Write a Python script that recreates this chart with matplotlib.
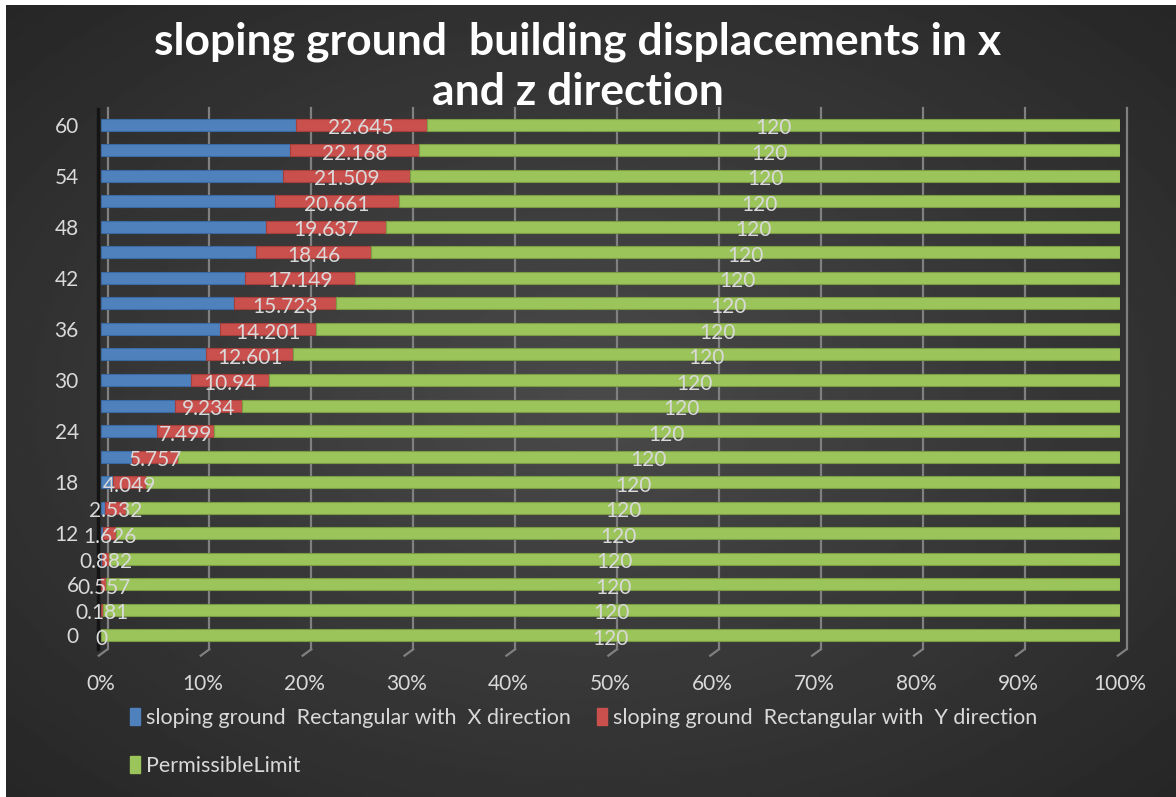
import numpy as np
import matplotlib.pyplot as plt
from matplotlib.patches import Patch
from matplotlib.transforms import ScaledTranslation

plt.rcParams['font.family'] = ['Lato', 'DejaVu Sans']

# data
storeys = [0, 3, 6, 9, 12, 15, 18, 21, 24, 27, 30, 33, 36, 39, 42, 45, 48, 51, 54, 57, 60]
x_dir = [0, 0.01, 0.05, 0.1, 0.2, 0.5, 1.5, 4.0, 7.4, 10.05, 12.7, 15.3, 17.8, 20.3,
         22.6, 24.85, 27.0, 29.0, 30.7, 32.3, 33.7]
y_dir = [0, 0.181, 0.557, 0.882, 1.626, 2.532, 4.049, 5.757, 7.499, 9.234, 10.94,
         12.601, 14.201, 15.723, 17.149, 18.46, 19.637, 20.661, 21.509, 22.168, 22.645]
limit = [120] * 21
pct_ticks = [0, 10, 20, 30, 40, 50, 60, 70, 80, 90, 100]

blue = '#4F81BD'
red = '#C9504D'
green = '#9BC45A'
txt = '#D9D9D9'

xd = np.array(x_dir)
yd = np.array(y_dir)
lim = np.array(limit, dtype=float)
tot = xd + yd + lim
p1 = xd / tot * 100
p2 = yd / tot * 100
p3 = lim / tot * 100

fig = plt.figure(figsize=(11.76, 7.97), dpi=100)
fig.patch.set_facecolor('white')

# dark radial background
bg = fig.add_axes([6 / 1176, 0, 1 - 6 / 1176, 1 - 5 / 797])
yy, xx = np.mgrid[-1:1:300j, -1:1:400j]
r = np.sqrt(xx ** 2 + yy ** 2) / np.sqrt(2)
bg.imshow(0.29 - 0.14 * r, cmap='gray', vmin=0, vmax=1, aspect='auto',
          extent=[0, 1, 0, 1])
bg.axis('off')

ax = fig.add_axes([101 / 1176, 1 - 648 / 797, 1019 / 1176, 536 / 797])
ax.patch.set_alpha(0)
pos = np.arange(len(storeys))
h = 0.47

# back-wall gridlines (3d offset)
shift = ax.transData + ScaledTranslation(0.065, 0, fig.dpi_scale_trans)
for t in pct_ticks:
    ax.plot([t, t], [-0.55, 20.65], color='#808080', lw=1.6, transform=shift,
            clip_on=False, zorder=0)
    ax.plot([t - 0.85, t], [-0.8, -0.55], color='#808080', lw=1.6, transform=shift,
            clip_on=False, zorder=0)
ax.plot([-0.25, -0.25], [-0.55, 20.6], color='#141414', lw=2.5, clip_on=False, zorder=1)

ax.barh(pos, p1, height=h, color=blue, edgecolor='#3b6aa3', lw=0.8, zorder=2)
ax.barh(pos, p2, left=p1, height=h, color=red, edgecolor='#a43f3c', lw=0.8, zorder=2)
ax.barh(pos, p3, left=p1 + p2, height=h, color=green, edgecolor='#7a9c45', lw=0.8, zorder=2)

for i in range(len(storeys)):
    ax.text(p1[i] + p2[i] / 2, i - 0.14, f'{y_dir[i]:g}', ha='center', va='center',
            color=txt, fontsize=15, zorder=3)
    ax.text(p1[i] + p2[i] + p3[i] / 2, i - 0.14, f'{limit[i]:g}', ha='center',
            va='center', color=txt, fontsize=15, zorder=3)

ax.set_xlim(0, 100)
ax.set_ylim(-0.5, 20.5)
ax.set_xticks(pct_ticks)
ax.set_xticklabels([f'{t}%' for t in pct_ticks])
ax.set_yticks(pos[::2])
ax.set_yticklabels([str(s) for s in storeys[::2]])
ax.tick_params(axis='x', length=0, pad=19, labelsize=15, labelcolor=txt)
ax.tick_params(axis='y', length=0, pad=16, labelsize=15, labelcolor=txt)
for s in ax.spines.values():
    s.set_visible(False)

fig.text(578 / 1176, 1 - 42 / 797, 'sloping ground  building displacements in x',
         ha='center', va='center', fontsize=32, fontweight='bold', color='white')
fig.text(578 / 1176, 1 - 92 / 797, 'and z direction',
         ha='center', va='center', fontsize=32, fontweight='bold', color='white')

handles = [Patch(color=blue), Patch(color=green), Patch(color=red)]
labels = ['sloping ground  Rectangular with  X direction', 'PermissibleLimit',
          'sloping ground  Rectangular with  Y direction']
leg = fig.legend(handles, labels, ncol=2, loc='upper left',
                 bbox_to_anchor=(130 / 1176, 1 - 708 / 797), frameon=False,
                 fontsize=15.5, labelcolor=txt, handlelength=0.45, handleheight=0.85,
                 handletextpad=0.3, columnspacing=1.2, labelspacing=1.3,
                 borderaxespad=0, borderpad=0)

fig.savefig('out.png', dpi=100, facecolor=fig.get_facecolor())
